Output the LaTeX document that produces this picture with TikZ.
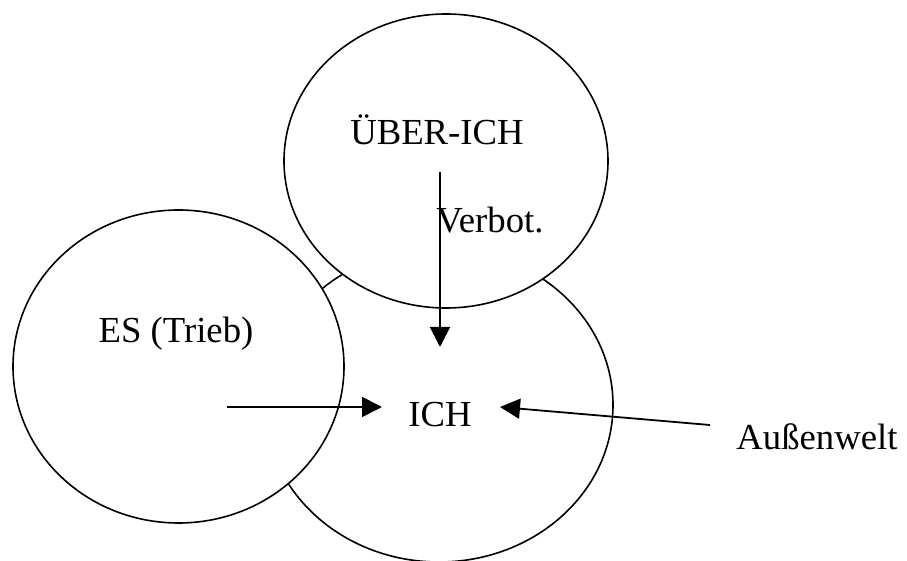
\documentclass[tikz,border=0pt]{standalone}
\usepackage{fontspec}
\setmainfont{Liberation Serif}
\usetikzlibrary{shapes.geometric,arrows.meta}
\begin{document}
\begin{tikzpicture}[x=0.5pt,y=-0.5pt,
  blob/.style={ellipse, draw, fill=white, line width=0.8pt, inner sep=0pt, outer sep=0pt},
  lbl/.style={font=\fontsize{18.35}{22}\selectfont, inner sep=0pt, anchor=base},
  arr/.style={line width=0.9pt, -{Triangle[length=10pt,width=10pt]}}]
\useasboundingbox[fill=white] (0,0) rectangle (907,561);
% circles
\node[blob, minimum width=174pt, minimum height=157pt] (ich) at (439,405) {};
\node[blob, minimum width=165.5pt, minimum height=156.5pt] (es) at (178.5,366.5) {};
\node[blob, minimum width=162pt, minimum height=147pt] (ueber) at (446,161) {};
% labels
\node[lbl] (tUeber) at (437,145) {ÜBER-ICH};
\node[lbl] (tVerbot) at (490,233) {Verbot.};
\node[lbl] (tEs) at (176,343) {ES (Trieb)};
\node[lbl] (tIch) at (440,427) {ICH};
\node[lbl] (tAussen) at (817,450) {Außenwelt};
% arrow end points
\coordinate (vS) at (440,172);
\coordinate (vE) at (440,347);
\coordinate (eS) at (227,407);
\coordinate (eE) at (382,407);
\coordinate (aS) at (710,425);
\coordinate (aE) at (500,407);
\draw[arr] (vS) -- (vE);
\draw[arr] (eS) -- (eE);
\draw[arr] (aS) -- (aE);
\end{tikzpicture}
\end{document}
